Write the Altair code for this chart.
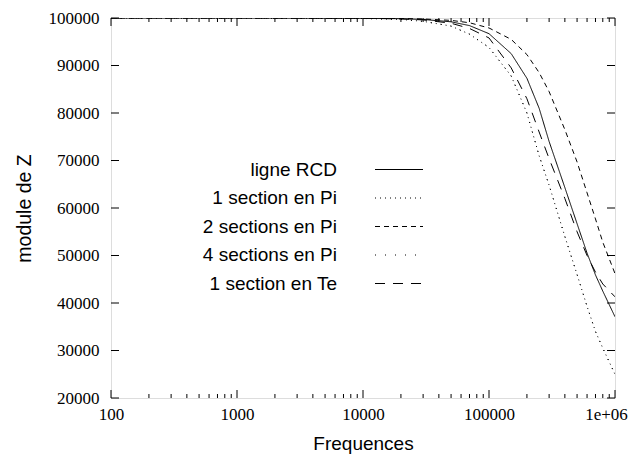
import altair as alt
import pandas as pd

# ---- data ----
freq = [100, 1000, 10000, 20000, 30000, 50000, 70000, 100000, 150000, 200000,
        250000, 300000, 400000, 500000, 600000, 700000, 800000, 1000000]
rcd = [100000, 100000, 99950, 99850, 99700, 99200, 98400, 96700, 92500, 87300,
       81000, 74000, 64300, 56700, 50500, 45900, 42500, 37100]
pi1 = [100000, 100000, 99900, 99700, 99300, 98300, 96600, 93800, 87800, 80000,
       71000, 64800, 54000, 46000, 39300, 34000, 30500, 25000]
pi2 = [100000, 100000, 99980, 99900, 99800, 99500, 99000, 97900, 95500, 92300,
       88500, 84500, 76500, 69700, 63200, 57700, 52800, 46200]
pi4 = [100000, 100000, 99900, 99700, 99300, 98300, 96600, 93800, 87800, 80000,
       71000, 64800, 54000, 46000, 39300, 34000, 30500, 25000]
te1 = [100000, 100000, 99950, 99800, 99600, 98900, 97800, 95800, 89500, 83000,
       76000, 70400, 62000, 55000, 50000, 46500, 44000, 41300]

series_names = ["ligne RCD", "1 section en Pi", "2 sections en Pi",
                "4 sections en Pi", "1 section en Te"]
series_values = [rcd, pi1, pi2, pi4, te1]
dashes = [[1, 0], [1, 4], [5, 4], [1, 9], [10, 8]]

x_major = [100, 1000, 10000, 100000, 1000000]
x_minor = [k * 10 ** d for d in range(2, 6) for k in range(2, 10)]
y_ticks = [20000, 30000, 40000, 50000, 60000, 70000, 80000, 90000, 100000]

SERIF = "Liberation Serif"
SANS = "Liberation Sans"

W, H = 504, 380

rows = []
for name, vals in zip(series_names, series_values):
    for f, z in zip(freq, vals):
        rows.append({"f": f, "z": z, "s": name})
df = pd.DataFrame(rows)

xscale = alt.Scale(type="log", domain=[100, 1000000], nice=False)
yscale = alt.Scale(domain=[20000, 100000], nice=False, zero=False)

xenc = alt.X("f:Q", scale=xscale, title="Frequences",
             axis=alt.Axis(values=x_major, ticks=False, domain=False, grid=False,
                           labelExpr="datum.value >= 1000000 ? '1e+06' : format(datum.value, 'd')",
                           labelFont=SERIF, labelFontSize=17,
                           labelOffset={"condition": {"test": "datum.value >= 1000000", "value": -9},
                                        "value": 0},
                           labelPadding=8, labelColor="black",
                           titleFont=SANS, titleFontSize=19,
                           titleFontWeight="normal", titleColor="black",
                           titlePadding=12, labelFlush=False, labelOverlap=False))
yenc = alt.Y("z:Q", scale=yscale, title="module de Z",
             axis=alt.Axis(values=y_ticks, ticks=False, domain=False, grid=False,
                           format="d", labelFont=SERIF, labelFontSize=17,
                           labelPadding=12, labelColor="black",
                           titleFont=SANS, titleFontSize=19.5,
                           titleFontWeight="normal", titleColor="black",
                           titlePadding=14, labelOverlap=False))

lines = alt.Chart(df).mark_line(color="black", strokeWidth=1, clip=True).encode(
    x=xenc, y=yenc,
    strokeDash=alt.StrokeDash("s:N", scale=alt.Scale(domain=series_names, range=dashes),
                              legend=None),
)

dfxM = pd.DataFrame({"f": x_major})
dfxm = pd.DataFrame({"f": x_minor})
dfy = pd.DataFrame({"z": y_ticks})

tick_style = dict(color="black", strokeWidth=1)
ticks = [
    alt.Chart(dfxM).mark_rule(**tick_style).encode(x=xenc, y=alt.value(H), y2=alt.value(H - 8)),
    alt.Chart(dfxM).mark_rule(**tick_style).encode(x=xenc, y=alt.value(0), y2=alt.value(8)),
    alt.Chart(dfxm).mark_rule(**tick_style).encode(x=xenc, y=alt.value(H), y2=alt.value(H - 4)),
    alt.Chart(dfxm).mark_rule(**tick_style).encode(x=xenc, y=alt.value(0), y2=alt.value(4)),
    alt.Chart(dfy).mark_rule(**tick_style).encode(y=yenc, x=alt.value(0), x2=alt.value(8)),
    alt.Chart(dfy).mark_rule(**tick_style).encode(y=yenc, x=alt.value(W), x2=alt.value(W - 8)),
]

# ---- in-plot legend (gnuplot style: label left, line sample right) ----
leg_y = [151.5, 180, 208.5, 237, 265.5]
legend_layers = []
for name, dash, yy in zip(series_names, dashes, leg_y):
    legend_layers.append(
        alt.Chart(pd.DataFrame({"t": [name]})).mark_text(
            align="right", baseline="middle", font=SANS, fontSize=19,
            color="black").encode(text="t:N", x=alt.value(226), y=alt.value(yy)))
    legend_layers.append(
        alt.Chart(pd.DataFrame({"t": [name]})).mark_rule(
            color="black", strokeWidth=1, strokeDash=dash).encode(
            x=alt.value(264), x2=alt.value(312), y=alt.value(yy)))

chart = alt.layer(lines, *ticks, *legend_layers).properties(
    width=W, height=H,
    padding={"left": 103, "top": 10, "right": 20, "bottom": 60},
    autosize=alt.AutoSizeParams(type="none"),
).configure_view(stroke="black", strokeWidth=1).configure(background="white")

chart.save("out.html", embed_options={"renderer": "svg", "actions": False})
